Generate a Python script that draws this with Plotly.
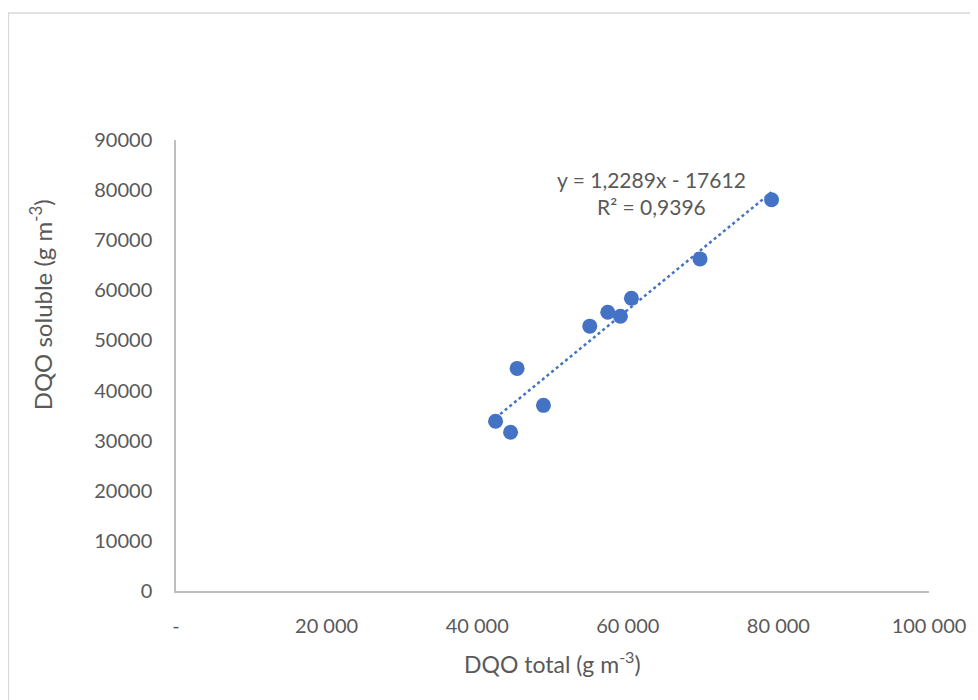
import plotly.graph_objects as go

# Data
dqo_total = [42440, 44430, 45300, 48800, 54950, 57340, 59020, 60480, 69590, 79090]
dqo_soluble = [33870, 31670, 44420, 37050, 52850, 55640, 54840, 58430, 66270, 78090]

slope = 1.2289
intercept = -17612
eq_line1 = "y = 1,2289x - 17612"
eq_line2 = "R² = 0,9396"

x_tickvals = [0, 20000, 40000, 60000, 80000, 100000]
x_ticktext = ["-", "20 000", "40 000", "60 000", "80 000", "100 000"]
y_tickvals = [0, 10000, 20000, 30000, 40000, 50000, 60000, 70000, 80000, 90000]
y_ticktext = [str(v) for v in y_tickvals]

blue = "#4472C4"
grey_text = "#595959"
font_family = "Lato, Carlito, Calibri, sans-serif"

x_min, x_max = min(dqo_total), max(dqo_total)
trend_x = [x_min, x_max]
trend_y = [slope * x + intercept for x in trend_x]

fig = go.Figure()
fig.add_trace(go.Scatter(
    x=trend_x, y=trend_y, mode="lines",
    line=dict(color=blue, width=2.5, dash="dot"),
    hoverinfo="skip", showlegend=False,
))
fig.add_trace(go.Scatter(
    x=dqo_total, y=dqo_soluble, mode="markers",
    marker=dict(color=blue, size=15, line=dict(width=0)),
    showlegend=False,
))

fig.update_layout(
    width=970, height=692,
    margin=dict(l=168, r=47, t=132, b=109),
    paper_bgcolor="white", plot_bgcolor="white",
    font=dict(family=font_family, size=20, color=grey_text),
    xaxis=dict(
        range=[0, 100000], tickvals=x_tickvals, ticktext=x_ticktext,
        showgrid=False, zeroline=False, showline=True, linecolor="#BFBFBF", linewidth=1.5,
        ticks="outside", ticklen=16, tickcolor="rgba(0,0,0,0)",
        tickfont=dict(size=20, color=grey_text),
    ),
    yaxis=dict(
        range=[0, 90000], tickvals=y_tickvals, ticktext=y_ticktext,
        showgrid=False, zeroline=False, showline=True, linecolor="#BFBFBF", linewidth=1.5,
        ticks="outside", ticklen=18, tickcolor="rgba(0,0,0,0)",
        tickfont=dict(size=20, color=grey_text),
    ),
    annotations=[
        dict(text="DQO total (g m<sup>-3</sup>)", xref="paper", yref="paper",
             x=(553 - 176) / 755, y=(591 - 662) / 451, showarrow=False,
             font=dict(size=23, color=grey_text), xanchor="center", yanchor="middle"),
        dict(text="DQO soluble (g m<sup>-3</sup>)", xref="paper", yref="paper",
             x=(41 - 176) / 755, y=(591 - 305) / 451, showarrow=False, textangle=-90,
             font=dict(size=24, color=grey_text), xanchor="center", yanchor="middle"),
        dict(text=eq_line1 + "<br>" + eq_line2, xref="paper", yref="paper",
             x=(653 - 176) / 755, y=(591 - 193) / 451, showarrow=False, align="center",
             font=dict(size=21, color=grey_text), xanchor="center", yanchor="middle"),
    ],
    shapes=[
        dict(type="rect", xref="paper", yref="paper",
             x0=(8 - 176) / 755, x1=(990 - 176) / 755,
             y0=(591 - 710) / 451, y1=(591 - 13) / 451,
             line=dict(color="#D9D9D9", width=1.5), fillcolor="rgba(0,0,0,0)", layer="below"),
    ],
)

fig.write_html("out.html")
